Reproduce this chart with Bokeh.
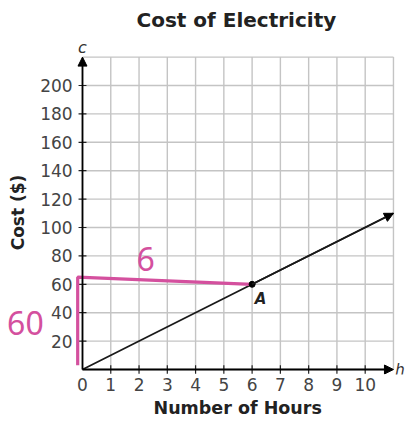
import math
from bokeh.plotting import figure
from bokeh.models import Range1d, FixedTicker, Arrow, NormalHead, Title
from bokeh.core.properties import value
from bokeh.embed import file_html
from bokeh.resources import INLINE

# data
hours = [0, 6, 11]
cost = [0, 60, 110]
point_A = (6, 60)
x_ticks = [0, 1, 2, 3, 4, 5, 6, 7, 8, 9, 10]
x_tick_marks = [1, 2, 3, 4, 5, 6, 7, 8, 9, 10]
y_ticks = [20, 40, 60, 80, 100, 120, 140, 160, 180, 200]
y_tick_labels = [str(v) for v in y_ticks]
grid_x = list(range(0, 12))
grid_y = list(range(0, 221, 20))
pink_x = [-0.17, -0.17, 6]
pink_y = [3, 65, 60]

FONT = "DejaVu Sans"
PINK = "#d4509e"

p = figure(frame_width=407, frame_height=340, min_border_left=0, min_border_right=0,
           min_border_top=34, min_border_bottom=50,
           x_range=Range1d(-2.9006, 11.4966), y_range=Range1d(-3.52, 235.92),
           output_backend="svg", toolbar_location=None)
p.outline_line_color = None
p.xgrid.visible = False
p.ygrid.visible = False
p.yaxis.visible = False

p.title.text = "Cost of Electricity"
p.title.align = "left"
p.title.offset = 136
p.title.text_font = FONT
p.title.text_font_size = "20px"
p.title.text_font_style = "bold"
p.title.text_color = "#222222"
p.title.standoff = 5

ax = p.xaxis[0]
ax.axis_line_color = None
ax.major_tick_line_color = None
ax.minor_tick_line_color = None
ax.major_tick_in = 0
ax.major_tick_out = 0
ax.major_label_text_font = FONT
ax.major_label_text_font_size = "17px"
ax.major_label_text_color = "#444444"
ax.major_label_standoff = 3
ax.ticker = FixedTicker(ticks=x_ticks)

p.add_layout(Title(text="Number of Hours", align="left", offset=153, text_font=FONT,
                   text_font_size="17.5px", text_font_style="bold", text_color="#222222",
                   standoff=5), "below")

# grid
p.segment(x0=grid_x, y0=[0]*len(grid_x), x1=grid_x, y1=[220]*len(grid_x),
          line_color="#c4c4c4", line_width=1.4)
p.segment(x0=[0]*len(grid_y), y0=grid_y, x1=[11]*len(grid_y), y1=grid_y,
          line_color="#c4c4c4", line_width=1.4)

# tick marks crossing axes
p.segment(x0=[-0.14]*len(y_ticks), y0=y_ticks, x1=[0.14]*len(y_ticks), y1=y_ticks,
          line_color="#222222", line_width=1.2)
p.segment(x0=x_tick_marks, y0=[-3]*len(x_tick_marks), x1=x_tick_marks, y1=[3]*len(x_tick_marks),
          line_color="#222222", line_width=1.2)

# y tick labels and axis title
p.text(x=[-0.35]*len(y_ticks), y=y_ticks, text=y_tick_labels, text_font=value(FONT),
       text_font_size="17px", text_color="#444444", text_align="right", text_baseline="middle")
p.text(x=[-2.264], y=[110.6], text=["Cost ($)"], angle=math.pi/2, text_font=value(FONT),
       text_font_size="17px", text_font_style="bold", text_color="#222222",
       text_align="center", text_baseline="middle")

# axes with arrows
head = dict(size=9, fill_color="black", line_color="black")
p.add_layout(Arrow(x_start=0, y_start=0, x_end=0, y_end=220, line_color="black", line_width=1.8,
                   end=NormalHead(**head)))
p.add_layout(Arrow(x_start=0, y_start=0, x_end=11, y_end=0, line_color="black", line_width=1.8,
                   end=NormalHead(**head)))

# cost line
p.line(hours, cost, line_color="#1a1a1a", line_width=1.8)
p.add_layout(Arrow(x_start=hours[-2], y_start=cost[-2], x_end=hours[-1], y_end=cost[-1],
                   line_color="#1a1a1a", line_width=1.8, end=NormalHead(**head)))

# pink annotation
p.line(pink_x, pink_y, line_color=PINK, line_width=3.2)
p.scatter([point_A[0]], [point_A[1]], size=6, color="black")

def lab(x, y, t, size, color="#333333", style="normal", font=FONT, align="center"):
    p.text(x=[x], y=[y], text=[t], text_font=value(font), text_font_size=size,
           text_color=color, text_font_style=style, text_align=align, text_baseline="middle")

lab(0, 226.8, "c", "16px", style="italic")
lab(11.06, -0.7, "h", "15px", style="italic", align="left")
lab(6.3, 50, "A", "15px", color="#222222", style="bold italic")
lab(2.23, 78, "6", "32px", color=PINK, font="Noto Sans")
lab(-2.02, 32.4, "60", "32px", color=PINK, font="Noto Sans")

open("out.html", "w").write(file_html(p, INLINE))
